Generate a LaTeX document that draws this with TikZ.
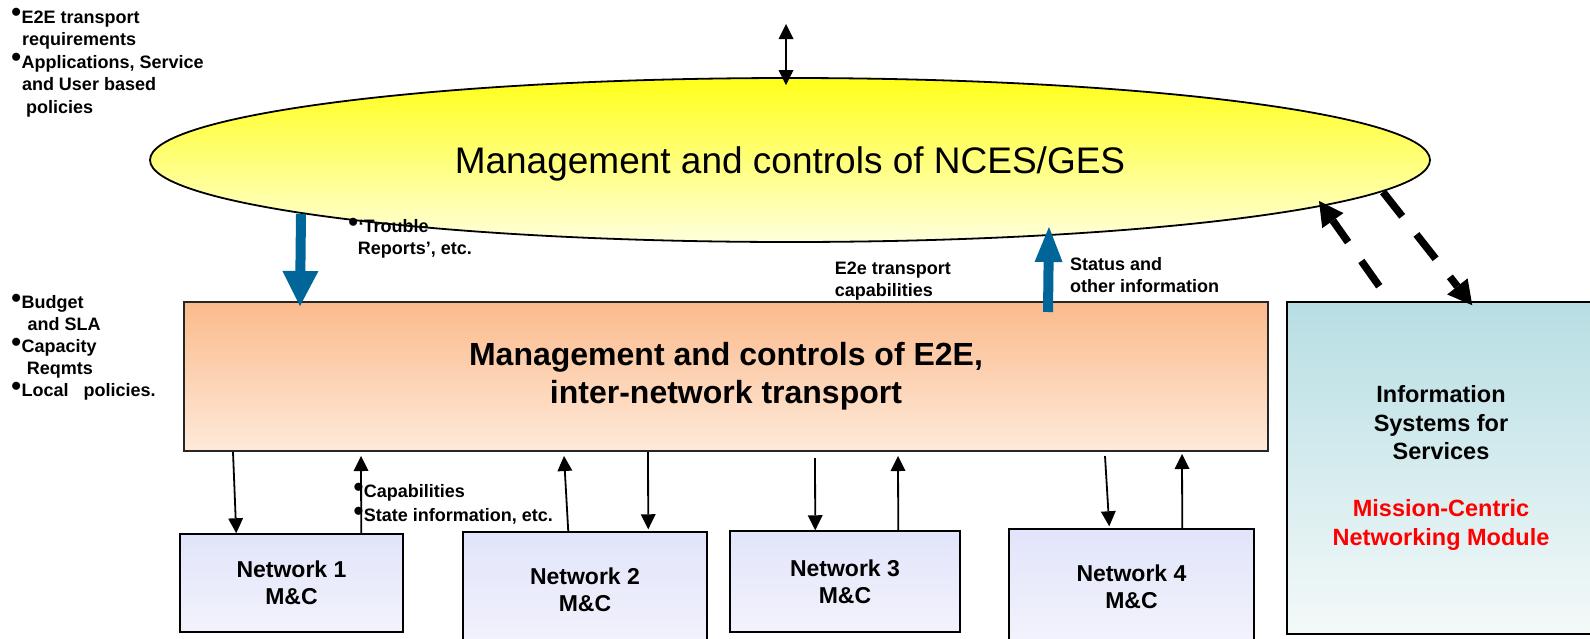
\documentclass[tikz,border=0pt]{standalone}
\usepackage{fontspec}
\setmainfont{Liberation Sans}
\usetikzlibrary{shapes.geometric,arrows.meta,calc}
\definecolor{ellTop}{RGB}{255,255,25}
\definecolor{ellBot}{RGB}{255,255,220}
\definecolor{orTop}{RGB}{251,186,140}
\definecolor{orBot}{RGB}{254,234,218}
\definecolor{netTop}{RGB}{225,228,250}
\definecolor{netBot}{RGB}{243,243,252}
\definecolor{infTop}{RGB}{183,222,227}
\definecolor{infBot}{RGB}{244,249,249}
\definecolor{arrBlue}{RGB}{0,102,153}
\newcommand\bul{\makebox[10.3pt][l]{\smash{\raisebox{1.4pt}{\fontsize{28}{28}\selectfont •}}}}
\begin{document}
\begin{tikzpicture}[x=1pt,y=-1pt,
  lbl/.style={anchor=north west, inner sep=0pt, align=left, font=\fontsize{18}{22}\selectfont\bfseries},
  netbox/.style={draw=black, line width=1.5pt, top color=netTop, bottom color=netBot, inner sep=0pt, align=center, font=\fontsize{23}{27}\selectfont\bfseries},
  thinarr/.style={line width=1.8pt, arrows={-Triangle[width=15pt,length=15pt,line width=0pt]}},
  dblarr/.style={line width=1.8pt, arrows={Triangle[width=15pt,length=15pt,line width=0pt]-Triangle[width=15pt,length=15pt,line width=0pt]}},
  bluearr/.style={draw=arrBlue, fill=arrBlue, line width=10pt},
  dasharr/.style={line width=7.5pt, dash pattern=on 31pt off 23pt, arrows={-Triangle[width=26pt,length=24pt,line width=0pt]}}
]
\useasboundingbox (0,0) rectangle (1590,638);
\fill[white] (0,0) rectangle (1590,638);

% main shapes
\node[ellipse, draw=black, line width=1.8pt, top color=ellTop, bottom color=ellBot,
      minimum width=1280pt, minimum height=164pt, inner sep=0pt, text depth=0pt,
      font=\fontsize{37}{40}\selectfont] (ell) at (790,160) {Management and controls of NCES/GES};

\node[draw=black!85, line width=2pt, top color=orTop, bottom color=orBot,
      minimum width=1084pt, minimum height=149pt, inner sep=0pt, align=center,
      font=\fontsize{32}{38}\selectfont\bfseries] (e2e) at (726,376.5)
      {Management and controls of E2E,\\inter-network transport};

\node[draw=black, line width=1.5pt, top color=infTop, bottom color=infBot,
      minimum width=308pt, minimum height=332pt, inner sep=0pt, align=center,
      font=\fontsize{23.5}{28.5}\selectfont\bfseries] (info) at (1441,468)
      {Information\\Systems for\\Services\\[28.5pt]\textcolor{red}{Mission-Centric}\\\textcolor{red}{Networking Module}};

\node[netbox, minimum width=223pt, minimum height=98pt] (n1) at (291.5,583) {Network 1\\M\&C};
\node[netbox, minimum width=244pt, minimum height=116pt] (n2) at (585,590) {Network 2\\M\&C};
\node[netbox, minimum width=230pt, minimum height=101pt] (n3) at (845,581.5) {Network 3\\M\&C};
\node[netbox, minimum width=245pt, minimum height=115pt] (n4) at (1131.5,586.5) {Network 4\\M\&C};

% text labels
\node[lbl, font=\fontsize{18}{22.5}\selectfont\bfseries] (req) at (11.1,10.5)
  {\bul E2E transport\\\hspace*{10.7pt}requirements\\\bul Applications, Service\\\hspace*{10.7pt}and User based\\\hspace*{14.8pt}policies};
\node[lbl] (budget) at (11.1,295.5)
  {\bul Budget\\\hspace*{16.3pt}and SLA\\\bul Capacity\\\hspace*{15.6pt}Reqmts\\\bul Local\hspace*{15pt}policies.};
\node[lbl] (trouble) at (348.2,219.5) {\bul ‘Trouble\\\hspace*{9.5pt}Reports’, etc.};
\node[lbl] (e2ecap) at (834.7,261.5) {E2e transport\\capabilities};
\node[lbl] (status) at (1070,257.5) {Status and\\other information};
\node[lbl, font=\fontsize{18}{24}\selectfont\bfseries] (capab) at (353.4,484.5) {\bul Capabilities\\\bul State information, etc.};

% top double arrow
\coordinate (topend) at (786,24);
\draw[dblarr] (topend) -- ($(ell.north)+(-4,8)$);

% blue arrows
\draw[bluearr, arrows={-Triangle[width=36pt,length=35pt,line width=0pt]}]
  ($(ell.center)+(-489,54)$) -- ($(e2e.north west)+(117,5)$);
\draw[bluearr, arrows={-Triangle[width=28pt,length=35pt,line width=0pt]}]
  ($(e2e.north west)+(865,11)$) -- ($(ell.center)+(259,67)$);

% dashed arrows
\draw[dasharr] ($(info.north west)+(93,-15)$) -- ($(ell.center)+(529,41)$);
\draw[dasharr] ($(ell.center)+(593,32)$) -- ($(info.north west)+(186,4)$);

% thin arrows between E2E box and networks
\draw[thinarr] ($(e2e.south west)+(50,0)$) -- ($(n1.north west)+(57,0)$);
\draw[thinarr] ($(n1.north west)+(182,0)$) -- ($(e2e.south west)+(178,4)$);
\draw[thinarr] ($(n2.north west)+(106,0)$) -- ($(e2e.south west)+(381,4)$);
\draw[thinarr] ($(e2e.south west)+(465,0)$) -- ($(n2.north west)+(186,-2)$);
\draw[thinarr] ($(e2e.south west)+(632,6)$) -- ($(n3.north west)+(86,0)$);
\draw[thinarr] ($(n3.north west)+(169,0)$) -- ($(e2e.south west)+(715,4)$);
\draw[thinarr] ($(e2e.south west)+(922,4)$) -- ($(n4.north west)+(101,-2)$);
\draw[thinarr] ($(n4.north west)+(174,0)$) -- ($(e2e.south west)+(999,2)$);
\end{tikzpicture}
\end{document}
